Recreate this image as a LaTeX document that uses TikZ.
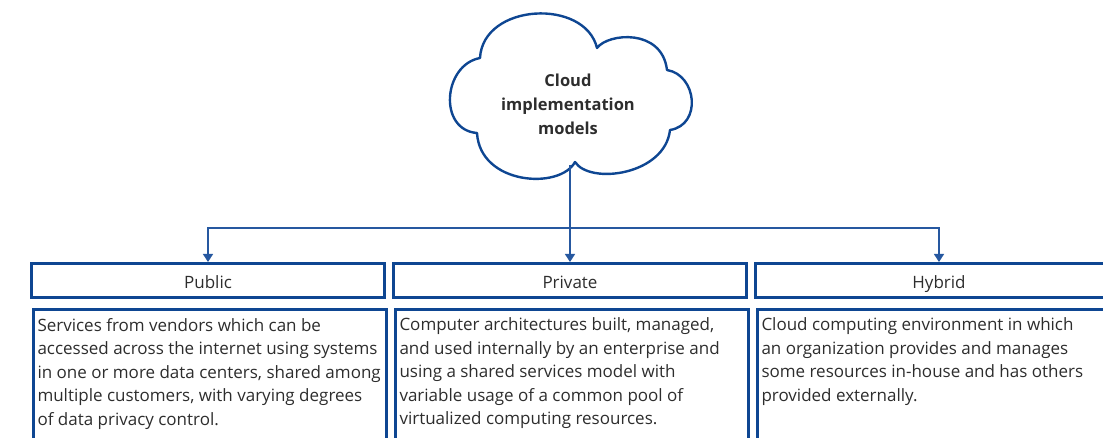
\documentclass[tikz,border=0pt]{standalone}
\usepackage{fontspec}
\setmainfont{Open Sans}
\usetikzlibrary{arrows.meta}
\definecolor{boxblue}{RGB}{14,70,146}
\definecolor{linkblue}{RGB}{38,88,160}
\definecolor{inkgray}{RGB}{45,45,45}

\begin{document}
\begin{tikzpicture}[x=1pt,y=-1pt,
  header/.style={draw=boxblue, line width=3pt, minimum width=353pt, minimum height=34pt,
    inner sep=0pt, text height=16.5pt, text depth=0pt, text=inkgray,
    font=\fontsize{17}{20}\selectfont},
  bodybox/.style={draw=boxblue, line width=3pt, anchor=north west, inner xsep=4.5pt,
    inner ysep=8pt, text=inkgray, font=\fontsize{17}{23.5}\selectfont},
  link/.style={draw=linkblue, line width=1.3pt},
  linkarrow/.style={link, -{Triangle[length=8pt,width=10pt]}},
  cloudline/.style={draw=boxblue, line width=2.4pt, line join=round}]
\useasboundingbox (0,0) rectangle (1103,438);
\clip (0,0) rectangle (1103,438);

% cloud outline
\draw[cloudline] (480,58)
  .. controls (483,3) and (585,-2) .. (597,48)
  .. controls (608,33) and (662,28) .. (667,70)
  .. controls (697,75) and (702,125) .. (670,130)
  .. controls (665,175) and (590,185) .. (575,162)
  .. controls (560,190) and (480,185) .. (477,133)
  .. controls (438,130) and (443,65) .. (480,58) -- cycle;
\node[font=\fontsize{16.5}{24}\selectfont\bfseries, text=inkgray, align=center] (cloud) at (568,104)
  {Cloud\\implementation\\models};
\coordinate (cloudfoot) at (570,165);

% category headers
\node[header] (public) at (208,280.5) {Public};
\node[header] (private) at (570,280.5) {Private};
\node[header, minimum width=367pt] (hybrid) at (939,280.5) {Hybrid};

% description boxes
\node[bodybox] (publicbody) at (31.5,308.5) {\parbox[t][150pt][t]{344pt}{%
  Services from vendors which can be\\
  accessed across the internet using systems\\
  in one or more data centers, shared among\\
  multiple customers, with varying degrees\\
  of data privacy control.}};
\node[bodybox] (privatebody) at (393.5,308.5) {\parbox[t][150pt][t]{344pt}{%
  Computer architectures built, managed,\\
  and used internally by an enterprise and\\
  using a shared services model with\\
  variable usage of a common pool of\\
  virtualized computing resources.}};
\node[bodybox] (hybridbody) at (755.5,308.5) {\parbox[t][150pt][t]{358pt}{%
  Cloud computing environment in which\\
  an organization provides and manages\\
  some resources in-house and has others\\
  provided externally.}};

% connectors
\coordinate (split) at (570,228);
\draw[link] (cloudfoot) -- (split);
\draw[linkarrow] (split) -| (public.north);
\draw[linkarrow] (split) -- (private.north);
\draw[linkarrow] (split) -| (hybrid.north);
\end{tikzpicture}
\end{document}
